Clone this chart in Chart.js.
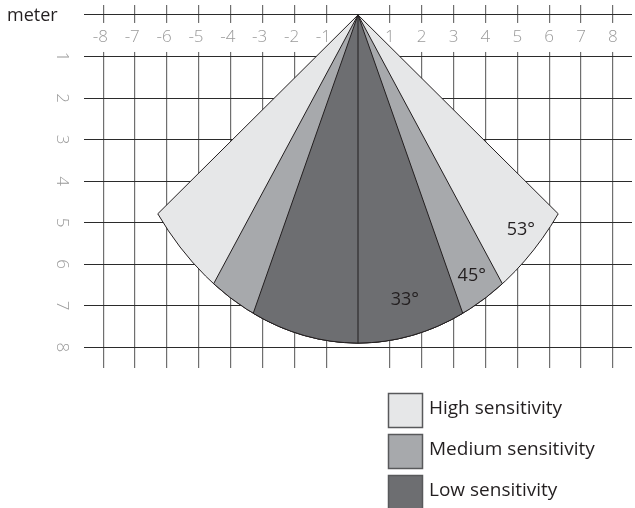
<!DOCTYPE html>
<html>
<head>
<meta charset="utf-8">
<script src="https://cdn.jsdelivr.net/npm/chart.js@4/dist/chart.umd.min.js"></script>
<style>
  html, body { margin: 0; padding: 0; background: #fff; }
  #wrap { width: 635px; height: 508px; }
</style>
</head>
<body>
<div id="wrap"><canvas id="chart"></canvas></div>
<script>
// grid ticks (meters)
const xTicks = [-8, -7, -6, -5, -4, -3, -2, -1, 0, 1, 2, 3, 4, 5, 6, 7, 8];
const yTicks = [0, 1, 2, 3, 4, 5, 6, 7, 8];

// detection zones, outermost first
const zoneNames = ["High sensitivity", "Medium sensitivity", "Low sensitivity"];
const zoneHalfAngles = [52.7, 35, 24.6];   // degrees either side of the axis
const zoneRange = [7.9, 7.9, 7.9];         // meters
const zoneColors = ["#e6e7e8", "#a7a9ac", "#6d6e71"];

// angle annotations
const angleLabels = ["53°", "45°", "33°"];
const angleLabelX = [5.11, 3.57, 1.47];
const angleLabelY = [5.18, 6.29, 6.87];

const FONT = "'Open Sans', 'Noto Sans', sans-serif";
const INK = "#231f20";

const zonesPlugin = {
  id: "zones",
  beforeDatasetsDraw(chart) {
    const { ctx, chartArea: { left, right }, scales: { x, y } } = chart;
    const x0 = x.getPixelForValue(0);
    const y0 = y.getPixelForValue(0);

    ctx.save();
    // gap in the vertical grid where the top labels sit
    ctx.fillStyle = "#fff";
    ctx.fillRect(left, y0 + 8, right - left, 29);

    // x tick labels (digit centered on the tick)
    ctx.font = "300 17px " + FONT;
    ctx.fillStyle = "#9a9a9a";
    ctx.textBaseline = "middle";
    xTicks.forEach(v => {
      if (v === 0) return;
      const px = x.getPixelForValue(v);
      const digit = String(Math.abs(v));
      const dw = ctx.measureText(digit).width;
      ctx.textAlign = "right";
      ctx.fillText(v < 0 ? "-" + digit : digit, px + dw / 2, y0 + 22);
    });

    // y tick labels, turned a quarter clockwise
    yTicks.forEach(v => {
      if (v === 0) return;
      const py = y.getPixelForValue(v);
      ctx.save();
      ctx.translate(62, py);
      ctx.rotate(Math.PI / 2);
      ctx.textAlign = "center";
      ctx.fillText(String(v), 0, 0);
      ctx.restore();
    });

    // sectors
    chart.data.datasets.forEach((ds, i) => {
      const r = zoneRange[i];
      const th = zoneHalfAngles[i] * Math.PI / 180;
      const rx = x.getPixelForValue(r) - x0;
      const ry = y.getPixelForValue(r) - y0;
      ctx.beginPath();
      ctx.moveTo(x0, y0);
      ctx.ellipse(x0, y0, rx, ry, 0, Math.PI / 2 - th, Math.PI / 2 + th);
      ctx.closePath();
      ctx.fillStyle = ds.backgroundColor;
      ctx.fill();
      ctx.lineWidth = 1;
      ctx.strokeStyle = INK;
      ctx.stroke();
    });

    // center line
    ctx.beginPath();
    ctx.moveTo(x0, y0);
    ctx.lineTo(x0, y.getPixelForValue(zoneRange[2]));
    ctx.strokeStyle = INK;
    ctx.lineWidth = 1;
    ctx.stroke();

    // angle labels
    ctx.font = "18px " + FONT;
    ctx.fillStyle = INK;
    ctx.textAlign = "center";
    ctx.textBaseline = "middle";
    angleLabels.forEach((t, i) => {
      ctx.fillText(t, x.getPixelForValue(angleLabelX[i]), y.getPixelForValue(angleLabelY[i]));
    });

    // axis unit
    ctx.font = "18px " + FONT;
    ctx.textAlign = "left";
    ctx.fillText("meter", 7, 16);
    ctx.restore();
  },
  afterDraw(chart) {
    const { ctx } = chart;
    ctx.save();
    ctx.font = "19px " + FONT;
    ctx.textBaseline = "middle";
    ctx.textAlign = "left";
    chart.data.datasets.forEach((ds, i) => {
      const top = 393 + i * 41;
      ctx.fillStyle = ds.backgroundColor;
      ctx.fillRect(388.5, top + 0.5, 34, 34);
      ctx.strokeStyle = "#58595b";
      ctx.lineWidth = 1.5;
      ctx.strokeRect(388.5, top + 0.5, 34, 34);
      ctx.fillStyle = INK;
      ctx.fillText(ds.label, 429, top + 16);
    });
    ctx.restore();
  }
};

new Chart(document.getElementById("chart"), {
  type: "scatter",
  data: {
    datasets: zoneNames.map((name, i) => ({
      label: name,
      data: [],
      backgroundColor: zoneColors[i]
    }))
  },
  plugins: [zonesPlugin],
  options: {
    responsive: true,
    maintainAspectRatio: false,
    animation: false,
    layout: { padding: { left: 84, right: 3, top: 5, bottom: 140 } },
    plugins: {
      legend: { display: false },
      tooltip: { enabled: false }
    },
    scales: {
      x: {
        type: "linear",
        position: "top",
        min: -8.6,
        max: 8.6,
        afterBuildTicks: s => { s.ticks = xTicks.map(v => ({ value: v })); },
        afterFit: s => { s.height = 0; },
        ticks: { display: false },
        border: { display: false },
        grid: {
          drawTicks: false,
          lineWidth: 1.2,
          color: c => (c.tick && c.tick.value === 0) ? "rgba(0,0,0,0)" : "#6f6f6f"
        }
      },
      y: {
        type: "linear",
        reverse: true,
        min: -0.24,
        max: 8.5,
        afterBuildTicks: s => { s.ticks = yTicks.map(v => ({ value: v })); },
        afterFit: s => { s.width = 0; },
        ticks: { display: false },
        border: { display: false },
        grid: {
          drawTicks: false,
          lineWidth: 1,
          color: "#2b2b2b"
        }
      }
    }
  }
});
</script>
</body>
</html>
